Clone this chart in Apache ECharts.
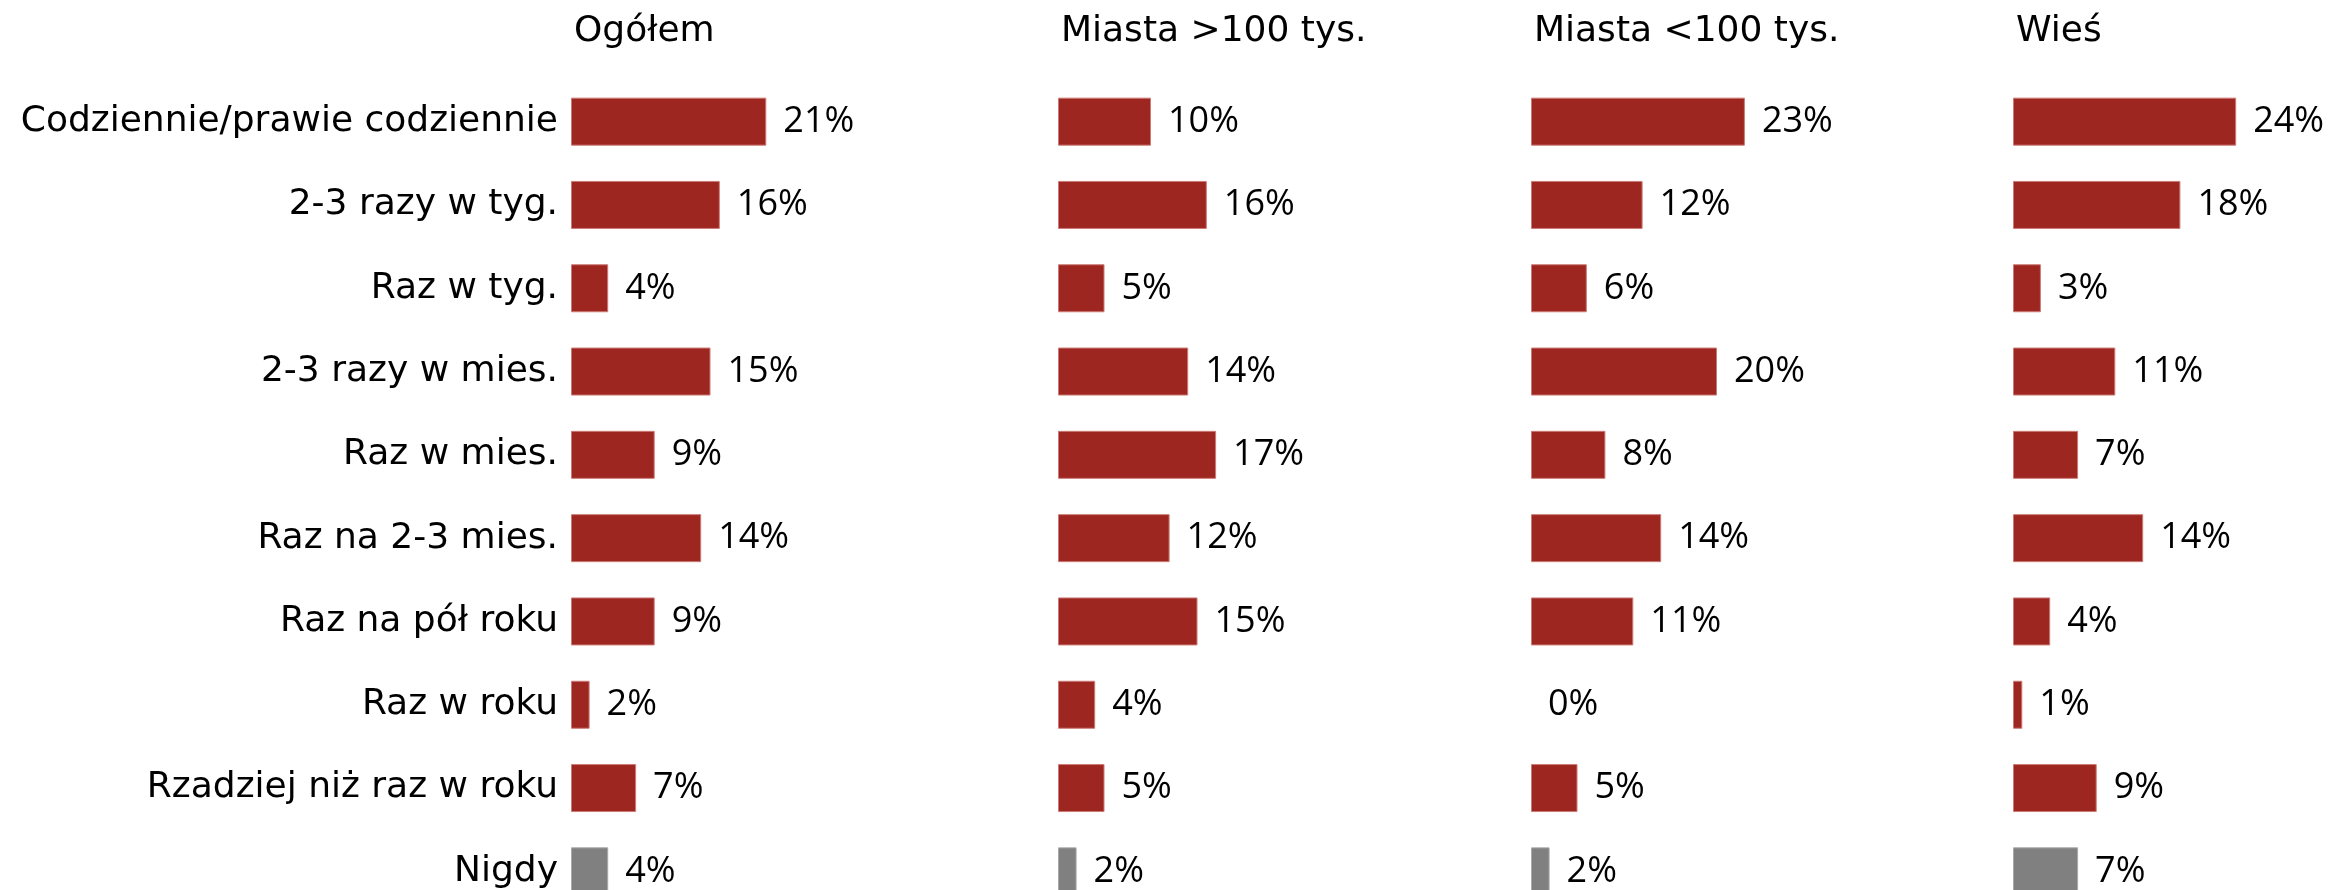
<!DOCTYPE html>
<html>
<head>
<meta charset="utf-8">
<script src="https://cdn.jsdelivr.net/npm/echarts@6/dist/echarts.min.js"></script>
<style>
  html, body { margin: 0; padding: 0; background: #fff; }
  #chart { width: 2338px; height: 890px; }
</style>
</head>
<body>
<div id="chart"></div>
<script>
// kategorie (od góry)
const categories = [
  "Codziennie/prawie codziennie",
  "2-3 razy w tyg.",
  "Raz w tyg.",
  "2-3 razy w mies.",
  "Raz w mies.",
  "Raz na 2-3 mies.",
  "Raz na pół roku",
  "Raz w roku",
  "Rzadziej niż raz w roku",
  "Nigdy"
];
const panelTitles = ["Ogółem", "Miasta >100 tys.", "Miasta <100 tys.", "Wieś"];
const ogolem = [21, 16, 4, 15, 9, 14, 9, 2, 7, 4];
const miastaPowyzej100 = [10, 16, 5, 14, 17, 12, 15, 4, 5, 2];
const miastaPonizej100 = [23, 12, 6, 20, 8, 14, 11, 0, 5, 2];
const wies = [24, 18, 3, 11, 7, 14, 4, 1, 9, 7];

const panelData = [ogolem, miastaPowyzej100, miastaPonizej100, wies];
const panelLeft = [571, 1058, 1531, 2013];

const TEXT_FONT = "'DejaVu Sans', sans-serif";
const NUM_FONT = "'Open Sans', 'Noto Sans', sans-serif";
const RED = "#9e2620";
const GRAY = "#808080";

let myChart = echarts.init(document.getElementById("chart"));

let grids = [], xAxes = [], yAxes = [], series = [], titles = [];
panelData.forEach((vals, i) => {
  // siatka wychodzi poza dół obrazka (ostatni wiersz jest ucięty)
  grids.push({ left: panelLeft[i], top: 80, width: 279, height: 833, outerBoundsMode: "none" });
  titles.push({
    text: panelTitles[i],
    left: panelLeft[i] - 2,
    top: 9,
    textStyle: { fontFamily: TEXT_FONT, fontSize: 36, fontWeight: "normal", color: "#000" }
  });
  xAxes.push({
    gridIndex: i, type: "value", min: 0, max: 30, show: false
  });
  yAxes.push({
    gridIndex: i,
    type: "category",
    inverse: true,
    data: categories,
    axisLine: { show: false },
    axisTick: { show: false },
    splitLine: { show: false },
    axisLabel: {
      show: i === 0,
      margin: 13,
      fontFamily: TEXT_FONT,
      fontSize: 36,
      color: "#000"
    }
  });
  series.push({
    type: "bar",
    xAxisIndex: i,
    yAxisIndex: i,
    barWidth: 48,
    data: vals.map((v, k) => ({
      value: v,
      itemStyle: k === vals.length - 1
        ? { color: GRAY, borderColor: "#a9a9a9", borderWidth: v > 0 ? 1 : 0 }
        : { color: RED, borderColor: "#cc7a75", borderWidth: v > 0 ? 1 : 0 }
    })),
    label: {
      show: true,
      position: "right",
      distance: 17,
      formatter: "{c}%",
      fontFamily: NUM_FONT,
      fontSize: 36,
      color: "#000"
    },
    silent: true,
    animation: false
  });
});

let option = {
  backgroundColor: "#fff",
  animation: false,
  title: titles,
  grid: grids,
  xAxis: xAxes,
  yAxis: yAxes,
  series: series
};
myChart.setOption(option, true);
</script>
</body>
</html>
